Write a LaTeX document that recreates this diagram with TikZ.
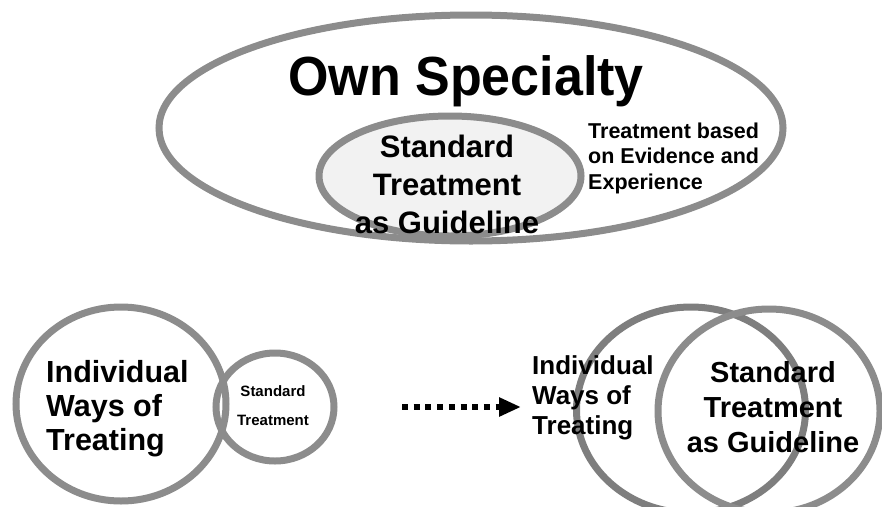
\documentclass[tikz,border=0pt]{standalone}
\usepackage{fontspec}
\setmainfont{Liberation Sans}
\usepackage{tikz}
\usetikzlibrary{shapes,arrows,positioning,calc,arrows.meta}
\definecolor{ringgray}{HTML}{8C8C8C}
\definecolor{paleFill}{HTML}{F2F2F2}

\begin{document}
\begin{tikzpicture}[x=1pt,y=-1pt,
    ring/.style={ellipse,draw=ringgray,line width=7pt,inner sep=0pt},
    lbl/.style={inner sep=0pt,font=\bfseries,align=center}]
    \useasboundingbox (0,0) rectangle (882,506);
    % top: own specialty
    \node [ring,minimum width=624,minimum height=226] (own) at (471,128) {};
    \node [ring,fill=paleFill,minimum width=262,minimum height=120] (guide) at (450,176) {};
    \node [lbl,yscale=1.06,transform shape,font=\bfseries\fontsize{52}{60}\selectfont] (spec) at (466,81) {Own Specialty};
    \node [lbl,font=\bfseries\fontsize{31}{38}\selectfont] (guidetxt) at (447,184) {Standard\\Treatment\\as Guideline};
    \node [lbl,align=left,anchor=west,font=\bfseries\fontsize{21.5}{25.5}\selectfont] (basis) at (588,158) {Treatment based\\on Evidence and\\Experience};
    % bottom left: separate ways
    \node [ring,fill=white,minimum width=118,minimum height=108] (stdsmall) at (275,407) {};
    \node [ring,minimum width=210,minimum height=194] (indivbig) at (121,404) {};
    \node [lbl,align=left,anchor=west,font=\bfseries\fontsize{30.5}{34}\selectfont] (indivtxt) at (46,409) {Individual\\Ways of\\Treating};
    \node [lbl,font=\bfseries\fontsize{15}{29}\selectfont] (stdtxt) at (273,406) {Standard\\Treatment};
    % arrow
    \coordinate (arrS) at (402,407); \coordinate (arrE) at (521,407);
    \draw [line width=6pt,dash pattern=on 6pt off 5.7pt,-{Triangle[length=22pt,width=18pt]}] (arrS) -- (arrE);
    % bottom right: overlapping
    \node [ring,draw=ringgray!90!black,minimum width=229,minimum height=206] (indivring) at (691,410) {};
    \node [ring,minimum width=222,minimum height=204] (guidering) at (769,411) {};
    \node [lbl,align=left,anchor=west,font=\bfseries\fontsize{26}{30}\selectfont] (indivtxtb) at (532,398) {Individual\\Ways of\\Treating};
    \node [lbl,font=\bfseries\fontsize{29}{35}\selectfont] (guidetxtb) at (773,407) {Standard\\Treatment\\as Guideline};
\end{tikzpicture}
\end{document}
